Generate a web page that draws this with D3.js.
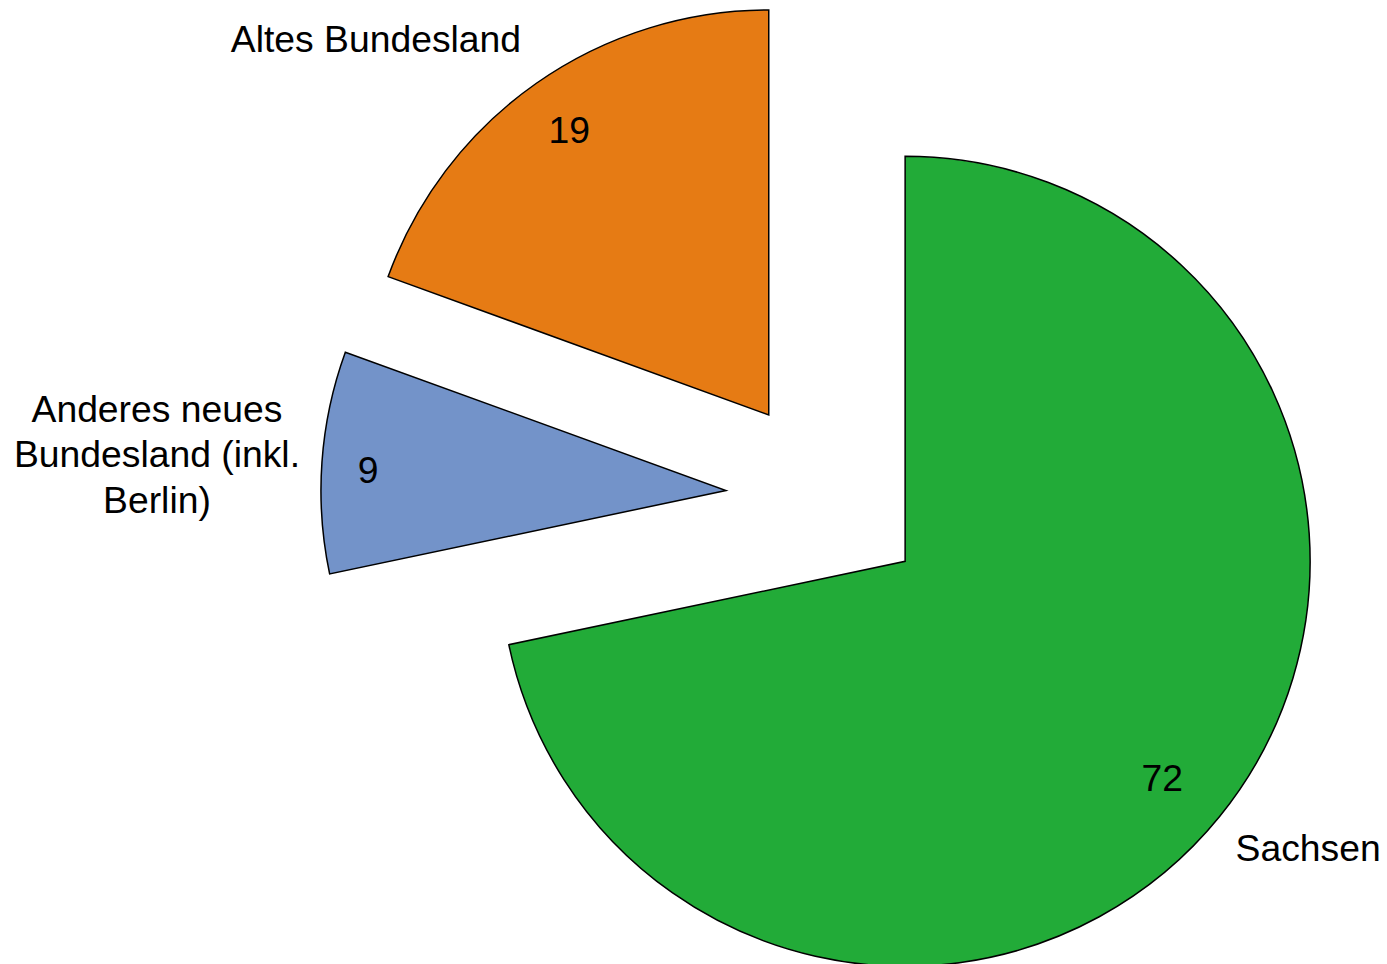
<!doctype html>
<meta charset="utf-8">
<style>
body {
  margin: 0;
  background: #fff;
  font-family: "Liberation Sans", Arial, sans-serif;
}
</style>
<script src="https://cdn.jsdelivr.net/npm/d3@7"></script>
<body>

<script>

var w = 1387, h = 964;

// data (shares, labels show them rounded)
var categories = ["Sachsen", "Anderes neues Bundesland (inkl. Berlin)", "Altes Bundesland"];
var values = [71.7, 8.85, 19.45];
var colors = ["#22ab38", "#7393c9", "#e67b14"];
// how the category labels wrap
var labelLines = [["Sachsen"], ["Anderes neues", "Bundesland (inkl.", "Berlin)"], ["Altes Bundesland"]];

// layout
var cx = 826.7, cy = 497.7, r = 405, explode = 101;
var fontSize = 37.3, lineH = 45.5;
// value label: [angle shift in degrees, radius fraction]
var valuePos = [[1.07, 0.830], [-0.75, 0.885], [0, 0.859]];
// category label: offset from outer arc point at mid angle
var catPos = [[88.5, 44.3], [-165, -40], [-160.5, -31.2]];

var fmt = d3.format(".0f");

var svg = d3.select("body")
  .append("svg")
    .attr("width", w)
    .attr("height", h)

var pie = d3.pie().sort(null).startAngle(0).endAngle(2 * Math.PI);
var arcs = pie(values);

var arc = d3.arc().innerRadius(0).outerRadius(r);

function polar(a, d) {
  return [Math.sin(a) * d, -Math.cos(a) * d];
}

var g = svg.selectAll("g.slice")
  .data(arcs)
  .enter().append("g")
    .attr("class", "slice")
    .attr("transform", function(d) {
      var m = (d.startAngle + d.endAngle) / 2;
      var p = polar(m, explode);
      return "translate(" + (cx + p[0]) + "," + (cy + p[1]) + ")";
    });

g.append("path")
    .attr("d", arc)
    .style("fill", function(d, i) { return colors[i]; })
    .style("stroke", "#000")
    .style("stroke-width", 1.5)
    .style("stroke-linejoin", "miter");

// value labels
g.append("text")
    .attr("transform", function(d, i) {
      var m = (d.startAngle + d.endAngle) / 2 + valuePos[i][0] * Math.PI / 180;
      var p = polar(m, r * valuePos[i][1]);
      return "translate(" + p[0] + "," + p[1] + ")";
    })
    .attr("text-anchor", "middle")
    .attr("dy", "0.35em")
    .style("font-size", fontSize + "px")
    .style("fill", "#000")
    .text(function(d) { return fmt(d.data); });

// category labels
g.append("text")
    .attr("transform", function(d, i) {
      var m = (d.startAngle + d.endAngle) / 2;
      var p = polar(m, r);
      return "translate(" + (p[0] + catPos[i][0]) + "," + (p[1] + catPos[i][1]) + ")";
    })
    .attr("text-anchor", "middle")
    .style("font-size", fontSize + "px")
    .style("fill", "#000")
  .selectAll("tspan")
  .data(function(d, i) { return labelLines[i]; })
  .enter().append("tspan")
    .attr("x", 0)
    .attr("y", function(t, j) { return j * lineH; })
    .text(function(t) { return t; });

</script>
